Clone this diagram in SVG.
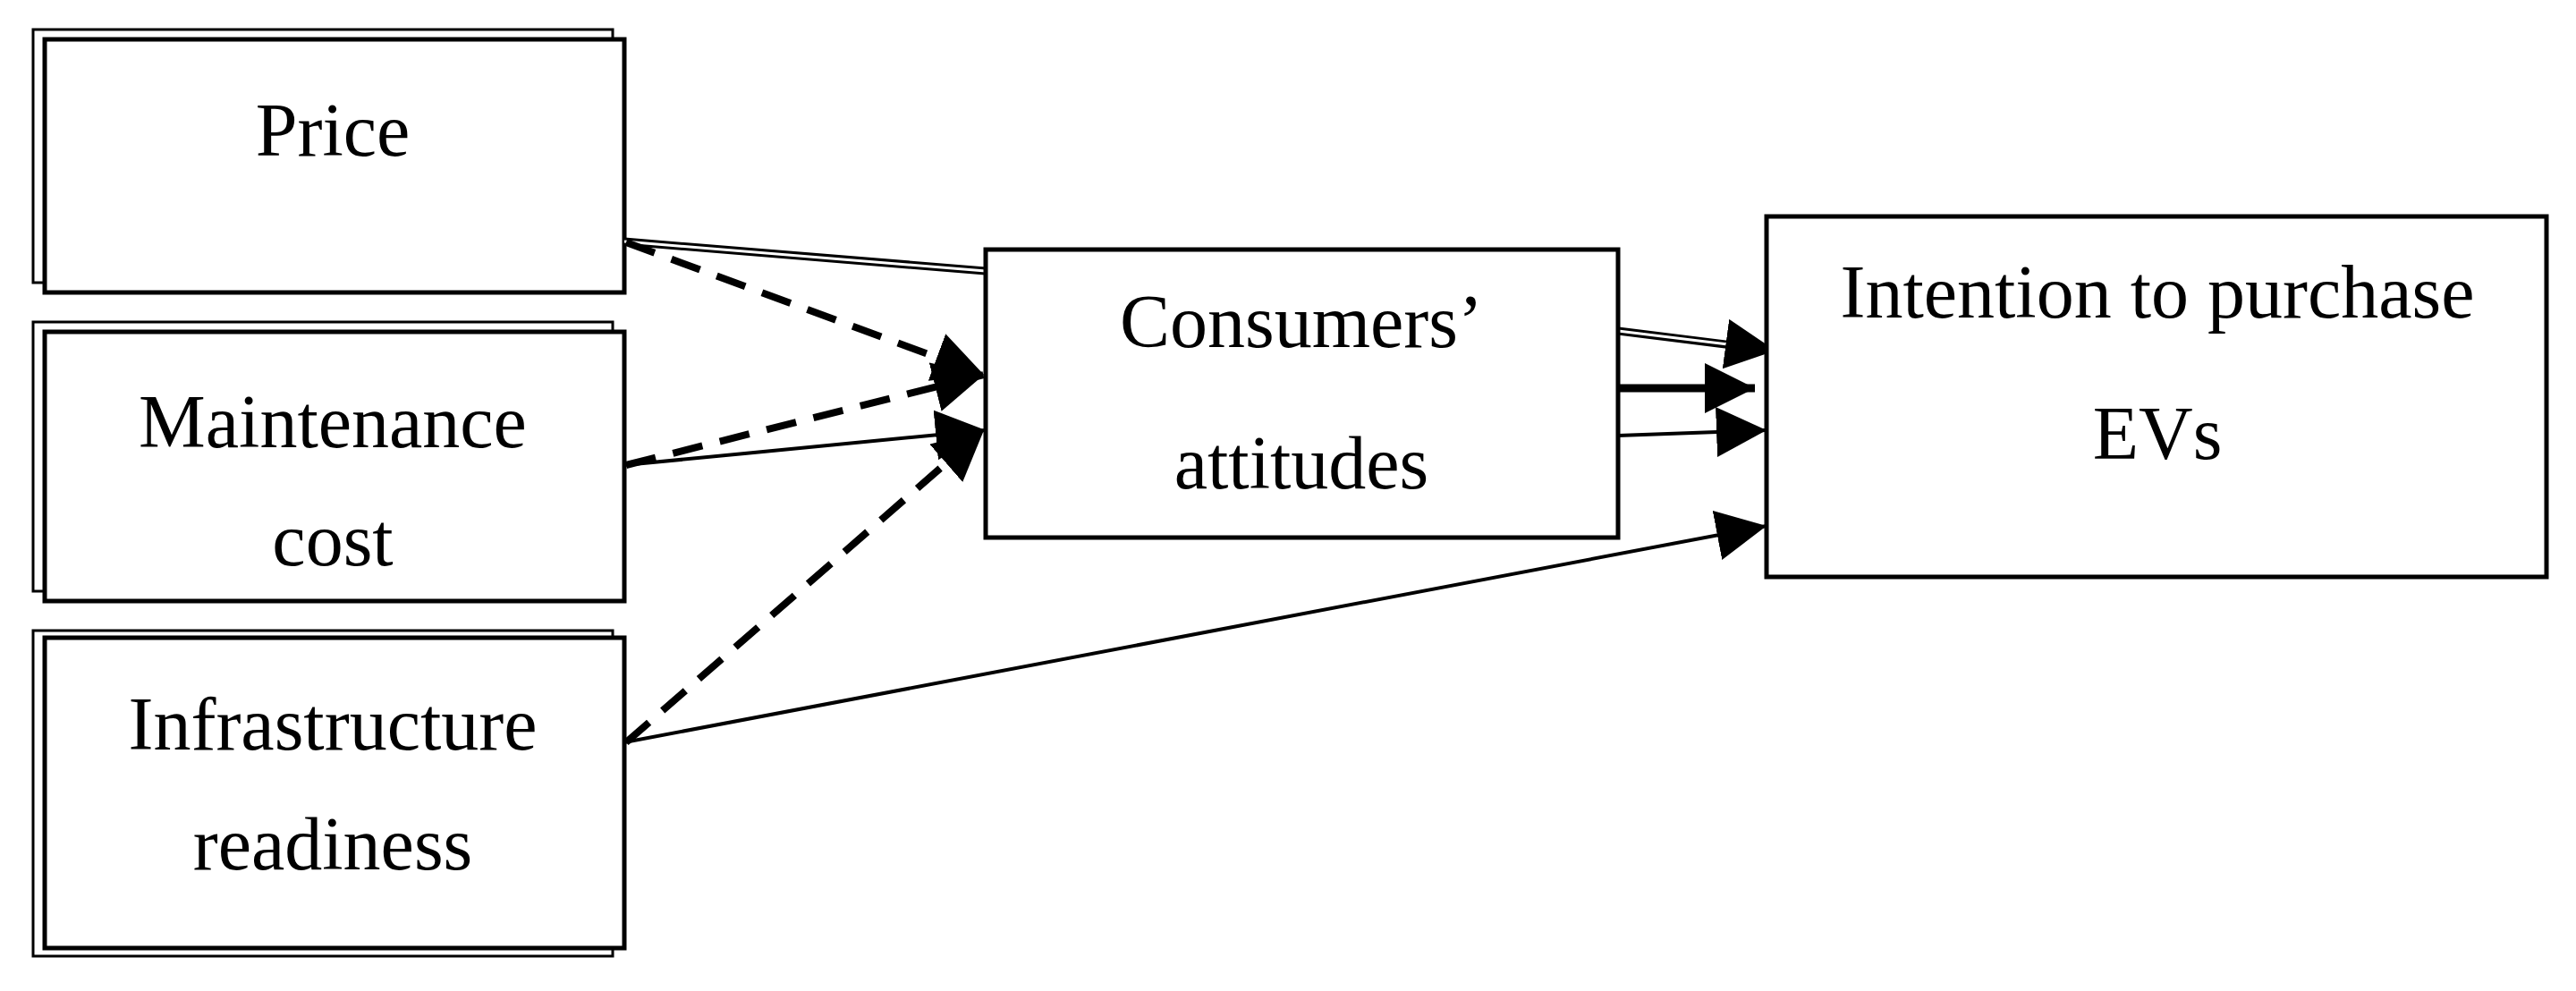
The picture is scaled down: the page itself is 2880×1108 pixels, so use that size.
<svg xmlns="http://www.w3.org/2000/svg" width="2880" height="1108" viewBox="0 0 2880 1108">
<style>
.box{fill:#fff;stroke:#000;stroke-width:5}
.back{fill:none;stroke:#000;stroke-width:3}
.t{font-family:"Liberation Serif","DejaVu Serif",serif;font-size:84px;text-anchor:middle;fill:#000}
.ln{fill:none;stroke:#000;stroke-width:4}
.dash{fill:none;stroke:#000;stroke-width:8;stroke-dasharray:34,20}
</style>
<defs>
<marker id="ah" markerUnits="userSpaceOnUse" markerWidth="60" markerHeight="60" refX="56" refY="28" orient="auto"><path d="M0,0 L56,28 L0,56 Z" fill="#000"/></marker>
</defs>
<rect width="2880" height="1108" fill="#fff"/>
<g id="price"><rect class="back" x="37" y="33" width="648" height="283"/><rect class="box" x="50" y="44" width="648" height="283"/><text class="t" x="372" y="174">Price</text></g>
<g id="maintenance"><rect class="back" x="37" y="360" width="648" height="301"/><rect class="box" x="50" y="371" width="648" height="301"/><text class="t" x="372" y="500">Maintenance</text><text class="t" x="372" y="632">cost</text></g>
<g id="infra"><rect class="back" x="37" y="705" width="648" height="364"/><rect class="box" x="50" y="713" width="648" height="347"/><text class="t" x="372" y="838">Infrastructure</text><text class="t" x="372" y="972">readiness</text></g>
<g id="connectors">
<line x1="698" y1="270" x2="1102" y2="303" stroke="#000" stroke-width="9"/>
<line x1="698" y1="270" x2="1102" y2="303" stroke="#fff" stroke-width="3"/>
<line class="dash" x1="700" y1="271" x2="1100" y2="419" marker-end="url(#ah)"/>
<line class="dash" x1="700" y1="520" x2="1100" y2="419" marker-end="url(#ah)"/>
<line class="ln" x1="698" y1="520" x2="1102" y2="481" marker-end="url(#ah)"/>
<line class="dash" x1="700" y1="830" x2="1100" y2="481" marker-end="url(#ah)"/>
<line class="ln" x1="698" y1="830" x2="1975" y2="588" marker-end="url(#ah)"/>
<line x1="1809" y1="370" x2="1985" y2="392" stroke="#000" stroke-width="9"/>
<line x1="1809" y1="370" x2="1940" y2="386" stroke="#fff" stroke-width="3"/>
<line class="ln" x1="1940" y1="386" x2="1985" y2="392" marker-end="url(#ah)"/>
<line x1="1809" y1="434" x2="1962" y2="434" stroke="#000" stroke-width="9" marker-end="url(#ah)"/>
<line class="ln" x1="1809" y1="487" x2="1975" y2="481" marker-end="url(#ah)"/>
</g>
<g id="consumers"><rect class="box" x="1102" y="279" width="707" height="322"/><text class="t" x="1455" y="388">Consumers’</text><text class="t" x="1455" y="546">attitudes</text></g>
<g id="intention"><rect class="box" x="1975" y="242" width="872" height="403"/><text class="t" x="2412" y="355">Intention to purchase</text><text class="t" x="2412" y="513">EVs</text></g>
</svg>
